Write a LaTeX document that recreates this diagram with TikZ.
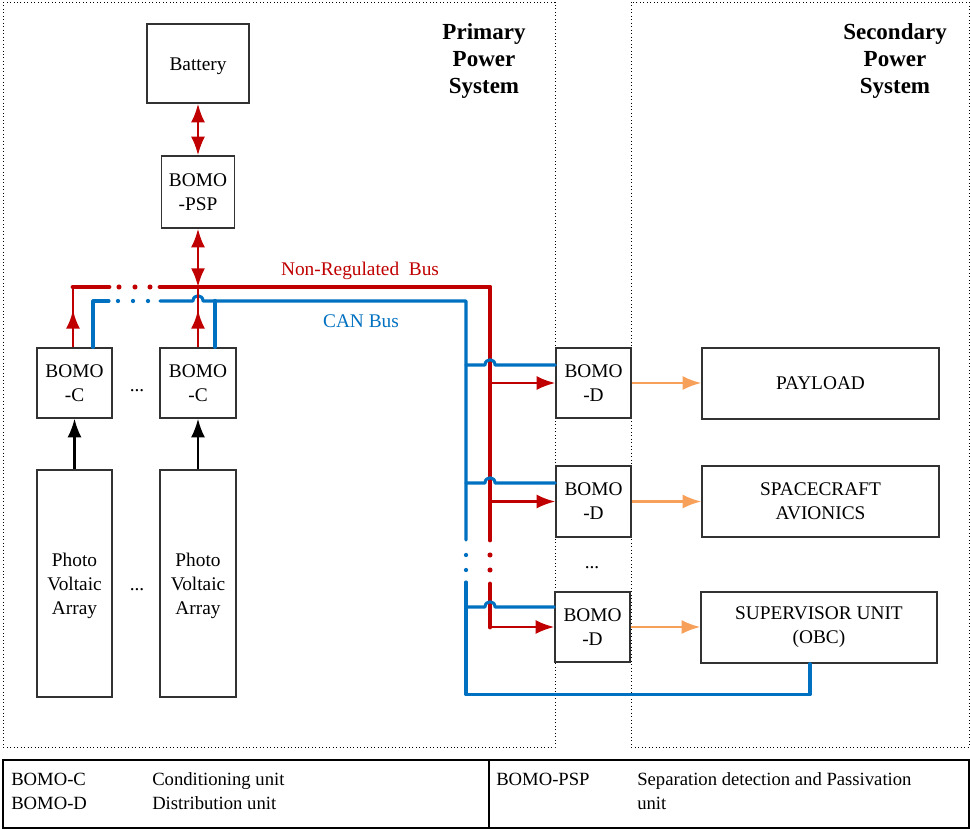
\documentclass[tikz,border=0pt]{standalone}
\usepackage{fontspec}
\setmainfont{Liberation Serif}
\usetikzlibrary{arrows.meta,calc,decorations.markings}
\definecolor{busred}{RGB}{192,0,0}
\definecolor{busblue}{RGB}{0,112,192}
\definecolor{feedorange}{RGB}{247,160,90}
\definecolor{boxgray}{RGB}{50,50,50}
\newcommand{\pvtext}{\raisebox{-4.9pt}[0pt][0pt]{\begin{tabular}{@{}c@{}}Photo\\Voltaic\\Array\end{tabular}}}
\begin{document}
\begin{tikzpicture}[x=0.75pt,y=-0.75pt,
  unit/.style={draw=boxgray,line width=0.9pt,inner sep=0pt,align=center,font=\fontsize{14.5}{18}\selectfont},
  plain/.style={inner sep=0pt,align=center,font=\fontsize{14.5}{18}\selectfont},
  legend/.style={inner sep=0pt,anchor=base west,font=\fontsize{14}{18}\selectfont},
  title/.style={inner sep=0pt,align=center,font=\fontsize{17.25}{20.6}\selectfont\bfseries},
  redbus/.style={busred,line width=3.7pt,line cap=round,line join=round},
  redthin/.style={busred,line width=2pt},
  redtip/.style={-{Latex[length=14pt,width=10.5pt]}},
  redtips/.style={{Latex[length=14pt,width=10.5pt]}-{Latex[length=14pt,width=10.5pt]}},
  canline/.style={busblue,line width=2.3pt,line cap=round,line join=round},
  feed/.style={feedorange,line width=1.9pt,-{Latex[length=14pt,width=10.5pt]}},
  pvfeed/.style={black,line width=1.9pt,-{Latex[length=14pt,width=10.5pt]}},
  midup/.style={postaction={decorate},decoration={markings,mark=at position 0.62 with {\arrow{Latex[length=14pt,width=10.5pt]}}}},
  frame/.style={black,line width=0.6pt,dotted},
]
\useasboundingbox (0,0) rectangle (970,829);

% system frames
\draw[frame] (3,2) rectangle (555,747);
\draw[frame] (631,2) rectangle (969,747);
\node[title] (ppst) at (484,61) {Primary\\Power\\System};
\node[title] (spst) at (895,61) {Secondary\\Power\\System};

% units
\node[unit,minimum width=76.5pt,minimum height=59.25pt] (bat) at (198,63.5) {\raisebox{-4.9pt}[0pt][0pt]{Battery}};
\node[unit,minimum width=54.75pt,minimum height=54pt] (psp) at (198,192) {BOMO\\-PSP};
\node[unit,minimum width=56.25pt,minimum height=52.5pt] (c1) at (74.5,383) {BOMO\\-C};
\node[unit,minimum width=57pt,minimum height=52.5pt] (c2) at (198,383) {BOMO\\-C};
\node[unit,minimum width=56.25pt,minimum height=170.25pt] (pv1) at (74.5,583.5) {\pvtext};
\node[unit,minimum width=57pt,minimum height=170.25pt] (pv2) at (198,583.5) {\pvtext};
\node[unit,minimum width=56.25pt,minimum height=52.5pt] (d1) at (593.5,383) {BOMO\\-D};
\node[unit,minimum width=56.25pt,minimum height=53.25pt] (d2) at (593.5,501.5) {BOMO\\-D};
\node[unit,minimum width=56.25pt,minimum height=52.5pt] (d3) at (592.5,627) {BOMO\\-D};
\node[unit,minimum width=177.75pt,minimum height=53.25pt] (pay) at (820.5,383.5) {PAYLOAD};
\node[unit,minimum width=177.75pt,minimum height=53.25pt] (sca) at (820.5,501.5) {SPACECRAFT\\AVIONICS};
\node[unit,minimum width=177pt,minimum height=53.25pt] (sup) at (819,627.5) {SUPERVISOR UNIT\\(OBC)};

\node[plain,anchor=base] (dotsc) at (137,391) {...};
\node[plain,anchor=base] (dotspv) at (137,590) {...};
\node[plain,anchor=base] (dotsd) at (592,568) {...};

% bus coordinates
\coordinate (nrL) at (73,287);
\coordinate (nrR) at (490,287);
\coordinate (canL) at (93,301);
\coordinate (canR) at (466,301);

% Non-regulated bus
\draw[redbus] (nrL) -- (109,287);
\foreach \xx in {119,135,150} \fill[busred] (\xx,287) circle (1.9pt);
\draw[redbus] (160,287) -- (nrR) -- (490,540);
\foreach \yy in {555,570} \fill[busred] (490,\yy) circle (1.9pt);
\draw[redbus] (490,584) -- (nrR |- d3.west);
\node[text=busred,plain] (nrlab) at (360,271) {Non-Regulated\ \ Bus};

% CAN bus
\draw[canline] ($(c1.north)+(18.5,0)$) |- (109,301);
\foreach \xx in {118,133,148} \fill[busblue] (\xx,301) circle (1.6pt);
\draw[canline] (160,301) -- (193,301) .. controls (193,294) and (203,294) .. (203,301) -- (canR) -- (466,540);
\foreach \yy in {555,570} \fill[busblue] (466,\yy) circle (1.6pt);
\draw[canline] (466,582) |- ($(sup.south)+(-9,31)$) -- ($(sup.south)+(-9,0)$);
\draw[canline] ($(c2.north)+(17,0)$) -- ($(c2.north)+(17,-47)$);
\node[text=busblue,plain] (canlab) at (361,321) {CAN Bus};

% CAN branches to BOMO-D (hop over the red bus)
\draw[canline] ($(canR |- d1.west)+(0,-18)$) -- (485,365) .. controls (485,358) and (495,358) .. (495,365) -- ($(d1.west)+(0,-18)$);
\draw[canline] ($(canR |- d2.west)+(0,-18.5)$) -- (485,483) .. controls (485,476) and (495,476) .. (495,483) -- ($(d2.west)+(0,-18.5)$);
\draw[canline] ($(canR |- d3.west)+(0,-20)$) -- (485,607) .. controls (485,600) and (495,600) .. (495,607) -- ($(d3.west)+(0,-20)$);

% red feeds to BOMO-D
\draw[redthin,redtip] (nrR |- d1.west) -- (d1.west);
\draw[redthin,redtip] (nrR |- d2.west) -- (d2.west);
\draw[redthin,redtip] (nrR |- d3.west) -- (d3.west);

% battery / PSP
\draw[redthin,redtips] (bat.south) -- (psp.north);
\draw[redthin,redtips] (psp.south) -- (psp.south |- nrL);

% BOMO-C to bus
\draw[redthin,midup] ($(c1.north)+(-1.5,0)$) -- (nrL);
\draw[redthin,midup] (c2.north) -- (c2.north |- nrL);

% PV to BOMO-C
\draw[pvfeed] (pv1.north) -- (c1.south);
\draw[pvfeed] (pv2.north) -- (c2.south);

% BOMO-D to loads
\draw[feed] (d1.east) -- (pay.west |- d1.east);
\draw[feed] (d2.east) -- (sca.west |- d2.east);
\draw[feed] (d3.east) -- (sup.west |- d3.east);

% legend
\draw[black,line width=0.8pt] (3,760) rectangle (969,828);
\draw[black,line width=0.8pt] (489,760) -- (489,828);
\node[legend] (lg1) at (11,785) {BOMO-C};
\node[legend] (lg2) at (152,785) {Conditioning unit};
\node[legend] (lg3) at (11,809) {BOMO-D};
\node[legend] (lg4) at (152,809) {Distribution unit};
\node[legend] (lg5) at (496,785) {BOMO-PSP};
\node[legend] (lg6) at (637,785) {Separation detection and Passivation};
\node[legend] (lg7) at (637,809) {unit};
\end{tikzpicture}
\end{document}
